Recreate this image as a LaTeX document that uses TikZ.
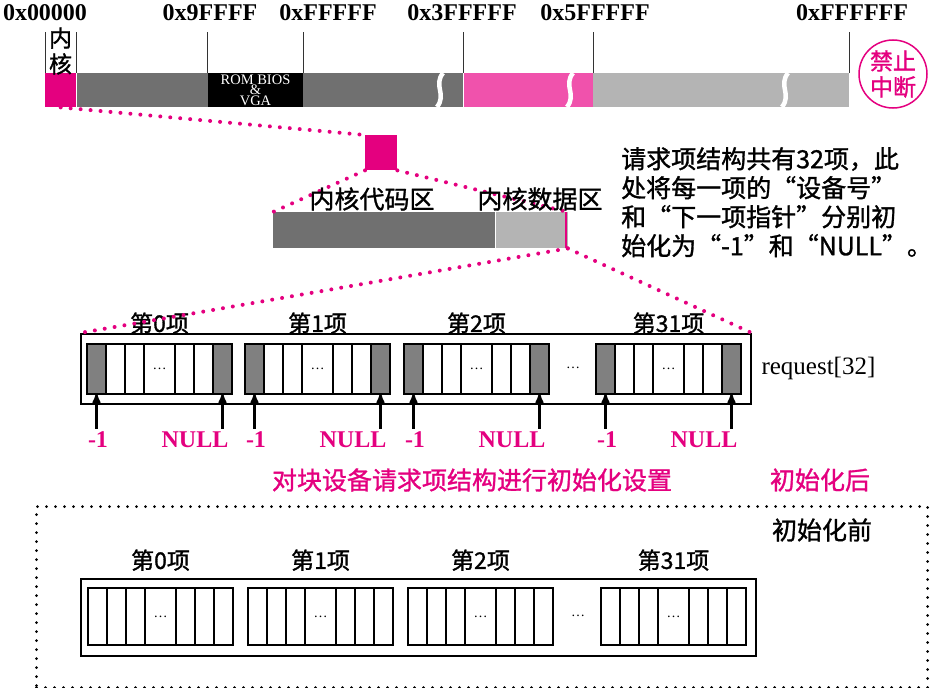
\documentclass[tikz,border=0pt]{standalone}
\usepackage{fontspec}
\setmainfont{Liberation Serif}
\newfontfamily\cjk[FakeBold=1.2]{Noto Sans CJK SC}
\usetikzlibrary{arrows, positioning, calc}

\definecolor{kpink}{RGB}{228,0,127}
\definecolor{rampink}{RGB}{240,82,172}
\definecolor{bardark}{RGB}{112,112,112}
\definecolor{barlight}{RGB}{180,180,180}
\definecolor{cellgray}{RGB}{128,128,128}

\begin{document}
\begin{tikzpicture}[
    x=1pt, y=-1pt, % pixel grid, y downwards
    seg/.style={
        rectangle,
        inner sep=0pt,
        anchor=north west,
        minimum height=34pt
    },
    hexlbl/.style={font=\fontsize{24}{24}\selectfont\bfseries},
    zh/.style={font=\fontsize{23}{26}\selectfont\cjk, inner sep=1pt},
    zhbig/.style={font=\fontsize{25}{29}\selectfont\cjk, inner sep=1pt},
    pinklbl/.style={font=\fontsize{24}{24}\selectfont\bfseries, text=kpink},
    tick/.style={line width=0.8pt, black!80},
    link/.style={kpink, line width=4pt, line cap=round, dash pattern=on 0pt off 10pt},
    gap/.style={white, line width=4.5pt},
    frame/.style={draw, line width=1.8pt},
    cellline/.style={line width=1.6pt},
    ptr/.style={->, line width=2.2pt, >=stealth'},
    pics/slot/.style 2 args={code={
        \fill[#1] (0,0) rectangle (19,#2) (126,0) rectangle (145,#2);
        \draw[cellline] (0,0) rectangle (145,#2)
            (19,0) -- (19,#2) (38,0) -- (38,#2) (57,0) -- (57,#2)
            (88,0) -- (88,#2) (107,0) -- (107,#2) (126,0) -- (126,#2);
        \node[font=\fontsize{14}{14}\selectfont] (-dots) at (72.5,#2/2) {\dots};
        \coordinate (-top) at (72.5,0);
        \coordinate (-l) at (9.5,#2);
        \coordinate (-r) at (135.5,#2);
    }}
]
    \useasboundingbox (0,0) rectangle (930,688);

    % address labels
    \node[hexlbl] (a0) at (45,13) {0x00000};
    \node[hexlbl] (a1) at (210,13) {0x9FFFF};
    \node[hexlbl] (a2) at (328,13) {0xFFFFF};
    \node[hexlbl] (a3) at (462,13) {0x3FFFFF};
    \node[hexlbl] (a4) at (595,13) {0x5FFFFF};
    \node[hexlbl] (a5) at (852,13) {0xFFFFFF};

    % memory bar
    \node[seg, fill=kpink, minimum width=31pt] (kseg) at (45,73) {};
    \node[seg, fill=bardark, minimum width=131pt, right=0pt of kseg] (low) {};
    \node[seg, fill=black, minimum width=95pt, right=0pt of low, text=white, align=center,
        font=\fontsize{14.5}{10.5}\selectfont] (rom) {ROM BIOS\\\&\\VGA};
    \node[seg, fill=bardark, minimum width=160pt, right=0pt of rom] (ext) {};
    \node[seg, fill=rampink, minimum width=129pt, right=0pt of ext] (rdisk) {};
    \node[seg, fill=barlight, minimum width=256pt, right=0pt of rdisk] (high) {};

    % breaks in the bar
    \draw[gap] (443,73) .. controls (433,86) and (447,94) .. (437,107);
    \draw[gap] (573,73) .. controls (563,86) and (577,94) .. (567,107);
    \draw[gap] (788,73) .. controls (778,86) and (792,94) .. (782,107);

    \draw[tick] (kseg.north west) -- ++(0,-41) (kseg.north east) -- ++(0,-41)
        (rom.north west) -- ++(0,-41) (rom.north east) -- ++(0,-41)
        (rdisk.north west) -- ++(0,-41) (rdisk.north east) -- ++(0,-41)
        (high.north east) -- ++(0,-41);

    \node[zh, align=center] (kern) at (60.5,51) {内\\核};
    \node[circle, draw=kpink, line width=1.5pt, minimum size=68pt, text=kpink, zh,
        align=center, inner sep=0pt] (nointr) at (893,74) {禁止\\中断};

    % kernel area
    \node[seg, fill=kpink, minimum width=32pt, minimum height=35pt] (kpage) at (365,135) {};
    \node[seg, fill=bardark, minimum width=222pt, minimum height=36pt] (kcode) at (273,212) {};
    \node[seg, fill=barlight, minimum width=72pt, minimum height=36pt, right=0pt of kcode] (kdata) {};
    \draw[kpink, line width=1.5pt] ([xshift=-2pt]kdata.north east) -- ([xshift=-2pt]kdata.south east);

    \node[zhbig, anchor=north west, align=left] (note) at (620,146)
        {请求项结构共有32项，此\\处将每一项的“设备号”\\和“下一项指针”分别初\\始化为“-1”和“NULL”。};

    % request array after init
    \node[frame, seg, minimum width=670pt, minimum height=70pt] (reqbox) at (80,333) {};
    \node[font=\fontsize{25}{25}\selectfont, anchor=west] (reqname) at (758,368) {request[32]};

    \pic (i0) at (87,344) {slot={cellgray}{50}};
    \pic (i1) at (245,344) {slot={cellgray}{50}};
    \pic (i2) at (404,344) {slot={cellgray}{50}};
    \pic (i31) at (596,344) {slot={cellgray}{50}};
    \node[font=\fontsize{14}{14}\selectfont] (more) at (573,368) {\dots};

    \node[zh, above=9pt of i0-top] (t0) {第0项};
    \node[zh, above=9pt of i1-top] (t1) {第1项};
    \node[zh, above=9pt of i2-top] (t2) {第2项};
    \node[zh, above=9pt of i31-top] (t31) {第31项};

    % dotted zoom lines
    \draw[link] (kseg.south) -- (kpage.north west);
    \draw[link] (kpage.south west) -- (kcode.north west);
    \draw[link] (kpage.south east) -- (kdata.north east);
    \draw[link] (kdata.south east) -- (reqbox.north west);
    \draw[link] (kdata.south east) -- (reqbox.north east);

    \node[zhbig] (kcodelbl) at (372,199) {内核代码区};
    \node[zhbig] (kdatalbl) at (540,199) {内核数据区};

    % initial values
    \node[pinklbl] (m0) at (98,440) {-1};
    \node[pinklbl] (n0) at (195,440) {NULL};
    \node[pinklbl] (m1) at (256,440) {-1};
    \node[pinklbl] (n1) at (353,440) {NULL};
    \node[pinklbl] (m2) at (415,440) {-1};
    \node[pinklbl] (n2) at (512,440) {NULL};
    \node[pinklbl] (m31) at (607,440) {-1};
    \node[pinklbl] (n31) at (704,440) {NULL};

    % pointer arrows
    \draw[ptr] (m0.north -| i0-l) -- (i0-l);
    \draw[ptr] (n0.north -| i0-r) -- (i0-r);
    \draw[ptr] (m1.north -| i1-l) -- (i1-l);
    \draw[ptr] (n1.north -| i1-r) -- (i1-r);
    \draw[ptr] (m2.north -| i2-l) -- (i2-l);
    \draw[ptr] (n2.north -| i2-r) -- (i2-r);
    \draw[ptr] (m31.north -| i31-l) -- (i31-l);
    \draw[ptr] (n31.north -| i31-r) -- (i31-r);

    \node[zhbig, text=kpink] (cap) at (472,480) {对块设备请求项结构进行初始化设置};
    \node[zhbig, text=kpink] (after) at (820,480) {初始化后};

    % request array before init
    \node[seg, draw, line width=3pt, line cap=round, dash pattern=on 0pt off 9pt,
        minimum width=891pt, minimum height=181pt] (beforebox) at (35,505) {};
    \node[zhbig] (before) at (822,530) {初始化前};
    \node[frame, seg, minimum width=675pt, minimum height=77pt] (oldbox) at (80,578) {};

    \pic (b0) at (88,588) {slot={white}{57}};
    \pic (b1) at (248,588) {slot={white}{57}};
    \pic (b2) at (408,588) {slot={white}{57}};
    \pic (b31) at (601,588) {slot={white}{57}};
    \node[font=\fontsize{14}{14}\selectfont] (more2) at (578,616) {\dots};

    \node[zh, above=16pt of b0-top] (u0) {第0项};
    \node[zh, above=16pt of b1-top] (u1) {第1项};
    \node[zh, above=16pt of b2-top] (u2) {第2项};
    \node[zh, above=16pt of b31-top] (u31) {第31项};

\end{tikzpicture}
\end{document}
